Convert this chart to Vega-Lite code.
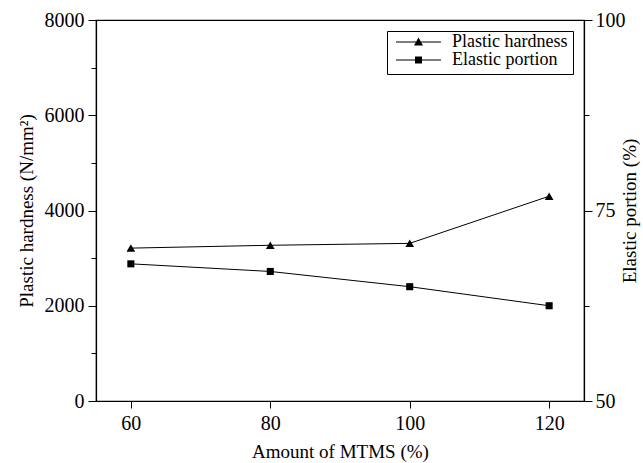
{
  "$schema": "https://vega.github.io/schema/vega-lite/v6.json",
  "width": 488,
  "height": 381,
  "autosize": {"type": "none"},
  "padding": {"left": 96, "top": 20, "right": 59, "bottom": 62},
  "background": "white",
  "config": {
    "font": "Liberation Serif",
    "view": {"stroke": "black", "strokeWidth": 1.2},
    "axis": {
      "domainColor": "black", "domainWidth": 1.2, "tickColor": "black", "labelColor": "black", "titleColor": "black",
      "labelFontSize": 20, "titleFontSize": 19, "titleFontWeight": "normal", "grid": false,
      "labelFont": "Liberation Serif", "titleFont": "Liberation Serif", "tickWidth": 1
    },
    "legend": {"labelFont": "Liberation Serif", "labelFontSize": 18, "labelColor": "black"}
  },
  "data": {
    "values": [
      {"mtms": 60, "series": "Plastic hardness", "value": 3210},
      {"mtms": 80, "series": "Plastic hardness", "value": 3270},
      {"mtms": 100, "series": "Plastic hardness", "value": 3310},
      {"mtms": 120, "series": "Plastic hardness", "value": 4300},
      {"mtms": 60, "series": "Elastic portion", "value": 68.0},
      {"mtms": 80, "series": "Elastic portion", "value": 67.0},
      {"mtms": 100, "series": "Elastic portion", "value": 65.0},
      {"mtms": 120, "series": "Elastic portion", "value": 62.5}
    ]
  },
  "encoding": {
    "x": {
      "field": "mtms", "type": "quantitative",
      "scale": {"domain": [55, 125], "nice": false, "zero": false},
      "axis": {"values": [60, 80, 100, 120], "title": "Amount of MTMS (%)", "tickSize": 7, "labelPadding": 5, "titlePadding": 9}
    }
  },
  "layer": [
    {
      "transform": [{"filter": "datum.series === 'Plastic hardness'"}],
      "encoding": {
        "y": {
          "field": "value", "type": "quantitative",
          "scale": {"domain": [0, 8000], "nice": false},
          "axis": {
            "orient": "left", "title": "Plastic hardness (N/mm²)",
            "values": [0, 1000, 2000, 3000, 4000, 5000, 6000, 7000, 8000],
            "labelExpr": "datum.value % 2000 === 0 ? datum.label : ''",
            "format": "d",
            "tickSize": {"condition": {"test": "datum.value % 2000 !== 0", "value": 5}, "value": 8},
            "labelPadding": 4, "titlePadding": 8
          }
        }
      },
      "layer": [
        {"mark": {"type": "line", "color": "black", "strokeWidth": 1}},
        {"mark": {"type": "point", "shape": "triangle-up", "filled": true, "color": "black", "size": 75, "opacity": 1}}
      ]
    },
    {
      "transform": [{"filter": "datum.series === 'Elastic portion'"}],
      "encoding": {
        "y": {
          "field": "value", "type": "quantitative",
          "scale": {"domain": [50, 100], "nice": false, "zero": false},
          "axis": {
            "orient": "right", "title": "Elastic portion (%)", "titleAngle": 270,
            "values": [50, 62.5, 75, 87.5, 100],
            "labelExpr": "datum.value % 25 === 0 ? datum.label : ''",
            "tickSize": {"condition": {"test": "datum.value % 25 !== 0", "value": 5}, "value": 8},
            "labelPadding": 3, "titlePadding": 14
          }
        }
      },
      "layer": [
        {"mark": {"type": "line", "color": "black", "strokeWidth": 1}},
        {"mark": {"type": "point", "shape": "square", "filled": true, "color": "black", "size": 50, "opacity": 1}}
      ]
    },
    {
      "transform": [{"filter": "false"}],
      "mark": {"type": "point", "filled": true, "color": "black", "opacity": 1},
      "encoding": {
        "shape": {
          "field": "series", "type": "nominal",
          "scale": {
            "domain": ["Plastic hardness", "Elastic portion"],
            "range": [
              "M-1,-0.1H8V0.1H-1Z M3.5,-0.9L4.4,0.72L2.6,0.72Z",
              "M-1,-0.1H8V0.1H-1Z M2.8,-0.7H4.2V0.7H2.8Z"
            ]
          },
          "legend": {
            "title": null, "orient": "top-right", "offset": 11,
            "symbolSize": 100, "symbolFillColor": "black", "symbolStrokeWidth": 0, "symbolOpacity": 1,
            "strokeColor": "black", "padding": 5, "labelOffset": 42, "rowPadding": 0, "clipHeight": 12,
            "labelFontSize": 18
          }
        }
      }
    }
  ],
  "resolve": {"scale": {"y": "independent"}}
}
